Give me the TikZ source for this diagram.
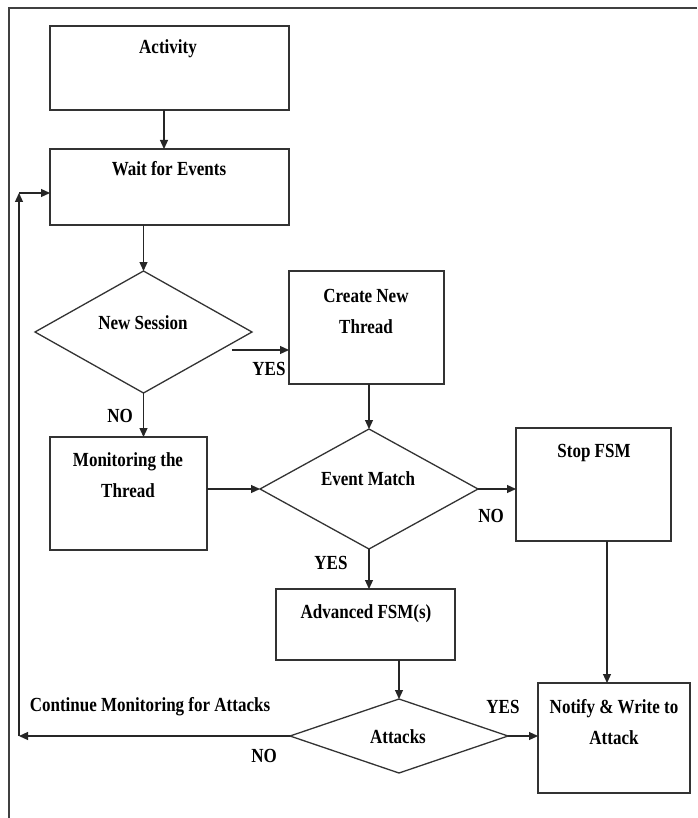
\documentclass[tikz,border=0pt]{standalone}
\usepackage{fontspec}
\setmainfont{Liberation Serif}[FakeStretch=0.85]
\usetikzlibrary{shapes.geometric,arrows.meta,calc}
\begin{document}
\begin{tikzpicture}[x=1pt,y=-1pt,
  box/.style={draw=black!80,line width=1.3pt,rectangle,inner sep=0pt,outer sep=0pt},
  dia/.style={draw=black!80,line width=1.3pt,diamond,inner sep=0pt,outer sep=0pt},
  txt/.style={font=\fontsize{20}{24}\selectfont\bfseries,inner sep=0pt,anchor=base,text=black},
  arr/.style={draw=black!85,line width=1.2pt,-{Triangle[length=9pt,width=8pt]}},
  ln/.style={draw=black!85,line width=1.2pt}]

\useasboundingbox (0,0) rectangle (697,818);
\fill[white] (0,0) rectangle (697,818);
% outer frame (top and left edges)
\draw[black!75,line width=2pt] (9,818) -- (9,8) -- (697,8);

% process boxes
\node[box,minimum width=239pt,minimum height=84pt]  (act)    at (169.5,68)   {};
\node[box,minimum width=239pt,minimum height=76pt]  (wait)   at (169.5,187)  {};
\node[box,minimum width=155pt,minimum height=113pt] (create) at (366.5,327.5) {};
\node[box,minimum width=157pt,minimum height=113pt] (mon)    at (128.5,493.5) {};
\node[box,minimum width=155pt,minimum height=113pt] (stop)   at (593.5,484.5) {};
\node[box,minimum width=179pt,minimum height=71pt]  (adv)    at (365.5,624.5) {};
\node[box,minimum width=152pt,minimum height=110pt] (notify) at (614,738)     {};

% decisions
\node[dia,minimum width=217pt,minimum height=122pt] (ns)  at (143.5,332) {};
\node[dia,minimum width=218pt,minimum height=120pt] (em)  at (369,489)   {};
\node[dia,minimum width=218pt,minimum height=74pt]  (att) at (399,736)   {};

% texts
\node[txt] (actT)   at (168,54)  {Activity};
\node[txt] (waitT)  at (169,176) {Wait for Events};
\node[txt] (nsT)    at (143,329) {New Session};
\node[txt] (crT1)   at (366,302) {Create New};
\node[txt] (crT2)   at (366,333) {Thread};
\node[txt] (monT1)  at (128,466) {Monitoring the};
\node[txt] (monT2)  at (128,497) {Thread};
\node[txt] (emT)    at (368,485) {Event Match};
\node[txt] (stopT)  at (594,457) {Stop FSM};
\node[txt] (advT)   at (366,618) {Advanced FSM(s)};
\node[txt] (attT)   at (398,743) {Attacks};
\node[txt] (ntT1)   at (614,713) {Notify \& Write to};
\node[txt] (ntT2)   at (614,744) {Attack};

% branch labels
\node[txt] (yes1) at (269,375) {YES};
\node[txt] (no1)  at (120,422) {NO};
\node[txt] (no2)  at (491,522) {NO};
\node[txt] (yes2) at (331,569) {YES};
\node[txt] (yes3) at (503,713) {YES};
\node[txt] (no3)  at (264,762) {NO};
\node[txt] (cont) at (150,711) {Continue Monitoring for Attacks};

% connectors
\draw[arr] ([xshift=-5.5pt]act.south) -- ([xshift=-5.5pt]wait.north);
\draw[arr] (ns.north |- wait.south) -- (ns.north);
\coordinate (nsY) at (232,350);
\draw[arr] (nsY) -- (nsY -| create.west);
\draw[arr] (ns.south) -- (ns.south |- mon.north);
\draw[arr] (em.north |- create.south) -- (em.north);
\draw[arr] (mon.east |- em.west) -- (em.west);
\draw[arr] (em.east) -- (em.east -| stop.west);
\draw[arr] ([xshift=13.5pt]stop.south) coordinate (s1) -- (s1 |- notify.north);
\draw[arr] (em.south) -- (em.south |- adv.north);
\draw[arr] (att.north |- adv.south) -- (att.north);
\draw[arr] (att.east) -- (att.east -| notify.west);

% loop back to waiting
\coordinate (lb) at (19,736);
\coordinate (lt) at (19,193);
\draw[arr] (att.west) -- (lb);
\draw[arr] (lb) -- (lt);
\draw[arr] (lt) -- (lt -| wait.west);
\end{tikzpicture}
\end{document}
